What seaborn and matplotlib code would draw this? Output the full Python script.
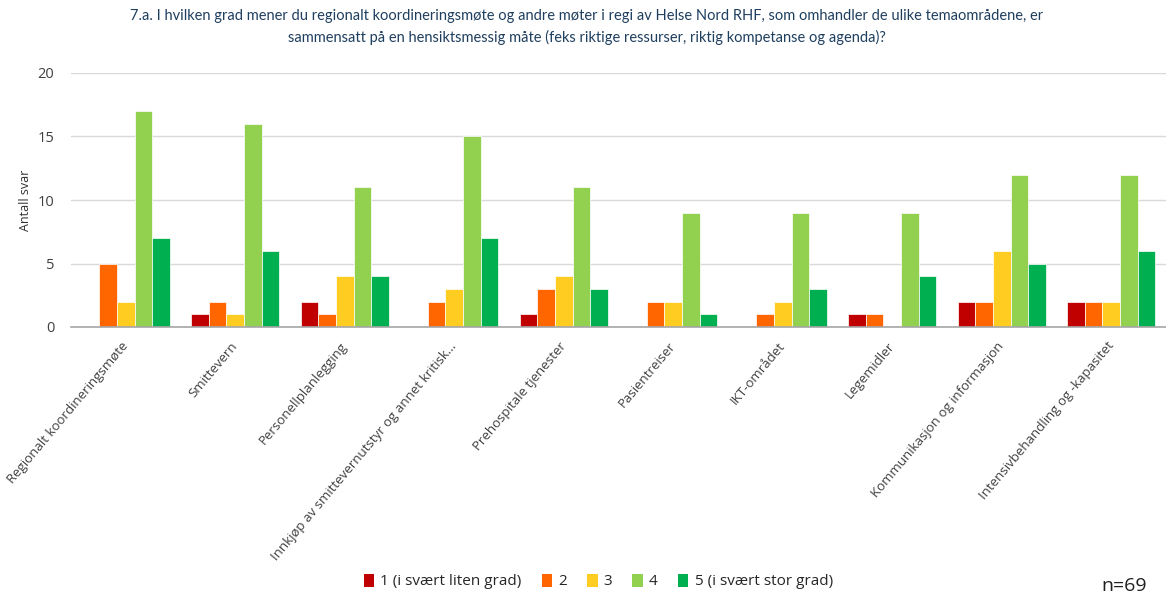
import matplotlib
matplotlib.use("Agg")
import matplotlib.pyplot as plt
import seaborn as sns
import pandas as pd
from matplotlib import font_manager
from matplotlib.patches import Patch

categories = [
    "Regionalt koordineringsmøte",
    "Smittevern",
    "Personellplanlegging",
    "Innkjøp av smittevernutstyr og annet kritisk...",
    "Prehospitale tjenester",
    "Pasientreiser",
    "IKT-området",
    "Legemidler",
    "Kommunikasjon og informasjon",
    "Intensivbehandling og -kapasitet",
]
series_names = ["1 (i svært liten grad)", "2", "3", "4", "5 (i svært stor grad)"]
v1 = [0, 1, 2, 0, 1, 0, 0, 1, 2, 2]
v2 = [5, 2, 1, 2, 3, 2, 1, 1, 2, 2]
v3 = [2, 1, 4, 3, 4, 2, 2, 0, 6, 2]
v4 = [17, 16, 11, 15, 11, 9, 9, 9, 12, 12]
v5 = [7, 6, 4, 7, 3, 1, 3, 4, 5, 6]
colors = ["#C00000", "#FF6600", "#FFCC22", "#92D050", "#00B050"]
title = ("7.a. I hvilken grad mener du regionalt koordineringsmøte og andre møter i regi av Helse Nord RHF, som omhandler de ulike temaområdene, er\n"
         "sammensatt på en hensiktsmessig måte (feks riktige ressurser, riktig kompetanse og agenda)?")

rows = []
for name, vals in zip(series_names, [v1, v2, v3, v4, v5]):
    for c, v in zip(categories, vals):
        rows.append({"Kategori": c, "Serie": name, "Antall": v})
df = pd.DataFrame(rows)

sns.set_theme(style="white")
avail = {f.name for f in font_manager.fontManager.ttflist}
base = "Open Sans" if "Open Sans" in avail else "DejaVu Sans"
narrow = "Lato" if "Lato" in avail else base
plt.rcParams["font.family"] = [base, "DejaVu Sans"]

fig = plt.figure(figsize=(11.66, 5.99), dpi=100)
ax = fig.add_axes([71 / 1166, 1 - 327 / 599, 1 - 71 / 1166, (327 - 73) / 599])

sns.barplot(data=df, x="Kategori", y="Antall", hue="Serie", order=categories,
            hue_order=series_names, palette=colors, width=0.8, ax=ax,
            edgecolor="white", linewidth=0.5, saturation=1, legend=False)

ax.set_ylim(0, 20)
ax.set_yticks([0, 5, 10, 15, 20])
ax.yaxis.grid(True, color="#D9D9D9", linewidth=1)
ax.set_axisbelow(True)
for s in ["left", "right", "top"]:
    ax.spines[s].set_visible(False)
ax.spines["bottom"].set_color("#A6A6A6")
ax.spines["bottom"].set_linewidth(1.2)
ax.tick_params(axis="both", length=0)
ax.tick_params(axis="y", labelsize=10.5, labelcolor="#404040", pad=12)
ax.set_xlabel("")
ax.set_ylabel("Antall svar", fontsize=9, color="#303030", labelpad=4)

ax.set_xticks(range(len(categories)))
ax.set_xticklabels(categories, rotation=50, ha="right", va="center",
                   rotation_mode="anchor", fontsize=9.5, color="#404040")
ax.tick_params(axis="x", pad=12)

fig.text(0.503, 0.985, title, ha="center", va="top", fontsize=10.5,
         color="#1F3F5F", family=[narrow, "DejaVu Sans"], linespacing=1.6)

handles = [Patch(facecolor=c, edgecolor="none") for c in colors]
fig.legend(handles, series_names, loc="center", bbox_to_anchor=(0.513, 0.029),
           ncol=5, frameon=False, fontsize=11, handlelength=0.7, handleheight=0.9,
           handletextpad=0.4, columnspacing=1.3)

fig.text(0.984, 0.022, "n=69", ha="right", va="center", fontsize=14, color="#202020")

fig.savefig("out.png", dpi=100)
